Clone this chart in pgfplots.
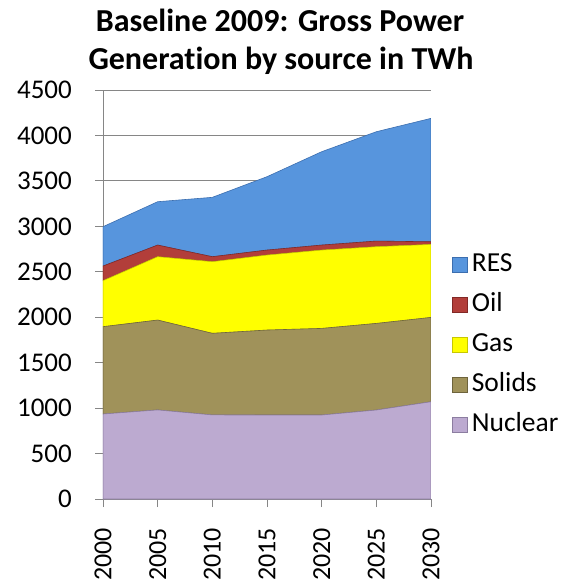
\documentclass[border=0pt]{standalone}
\usepackage{fontspec}
\setmainfont{Carlito}[Ligatures={NoCommon}]
\usepackage{pgfplots}
\pgfplotsset{compat=1.18}
\definecolor{resc}{RGB}{87,149,221}
\definecolor{resd}{RGB}{60,110,175}
\definecolor{oilc}{RGB}{178,62,58}
\definecolor{oild}{RGB}{130,40,38}
\definecolor{gasc}{RGB}{255,255,0}
\definecolor{gasd}{RGB}{200,200,0}
\definecolor{solc}{RGB}{160,146,90}
\definecolor{sold}{RGB}{110,100,60}
\definecolor{nucc}{RGB}{188,170,208}
\definecolor{nucd}{RGB}{140,125,160}
\definecolor{axgray}{RGB}{134,134,134}
\begin{document}
\begin{tikzpicture}
\path[use as bounding box] (-103pt,-82pt) rectangle (457pt,499pt);
\begin{axis}[
  at={(0pt,0pt)}, anchor=south west,
  scale only axis, width=328pt, height=409pt,
  xmin=2000, xmax=2030, ymin=0, ymax=4500,
  xtick={2000,2005,...,2030}, ytick={0,500,...,4500},
  stack plots=y,
  axis lines*=left,
  axis line style={-, draw=axgray, line width=0.8pt},
  tick align=outside, major tick length=8pt,
  tick style={draw=axgray, line width=0.8pt},
  ymajorgrids, grid style={draw=axgray, line width=0.8pt},
  /pgf/number format/assume math mode=true,
  /pgf/number format/1000 sep={},
  tick label style={font=\fontsize{27}{31}\selectfont},
  xticklabel style={rotate=90, anchor=east, inner sep=0pt, xshift=-21pt, font=\fontsize{26}{30}\selectfont},
  yticklabel style={anchor=east, inner sep=0pt, xshift=-23pt},
  reverse legend,
  legend cell align=left,
  legend style={at={(1.055,0.378)}, anchor=west, draw=none, fill=none,
    font=\fontsize{27.5}{31}\selectfont, row sep=16pt,
    nodes={text height=18pt, text depth=4pt, inner ysep=1pt, inner xsep=4pt}},
  legend image code/.code={\draw[#1, line width=0.6pt] (0pt,-7.5pt) rectangle (15pt,7.5pt);},
]
\addplot[fill=nucc, draw=nucd, line width=0.6pt] coordinates {(2000,935) (2005,980) (2010,925) (2015,924) (2020,924) (2025,979) (2030,1070)} \closedcycle;
\addlegendentry{Nuclear}
\addplot[fill=solc, draw=sold, line width=0.6pt] coordinates {(2000,961) (2005,989) (2010,898) (2015,935) (2020,953) (2025,953) (2030,928)} \closedcycle;
\addlegendentry{Solids}
\addplot[fill=gasc, draw=gasd, line width=0.6pt] coordinates {(2000,506) (2005,697) (2010,788) (2015,825) (2020,862) (2025,844) (2030,803)} \closedcycle;
\addlegendentry{Gas}
\addplot[fill=oilc, draw=oild, line width=0.6pt] coordinates {(2000,161) (2005,128) (2010,55) (2015,55) (2020,55) (2025,62) (2030,29)} \closedcycle;
\addlegendentry{Oil}
\addplot[fill=resc, draw=resd, line width=0.6pt] coordinates {(2000,433) (2005,477) (2010,653) (2015,807) (2020,1027) (2025,1203) (2030,1358)} \closedcycle;
\addlegendentry{RES}
\end{axis}
\node[anchor=base, font=\bfseries\fontsize{32}{38}\selectfont] at (177pt,467.3pt) {Baseline 2009: Gross Power};
\node[anchor=base, font=\bfseries\fontsize{32}{38}\selectfont] at (178pt,429pt) {Generation by source in TWh};
\end{tikzpicture}
\end{document}
